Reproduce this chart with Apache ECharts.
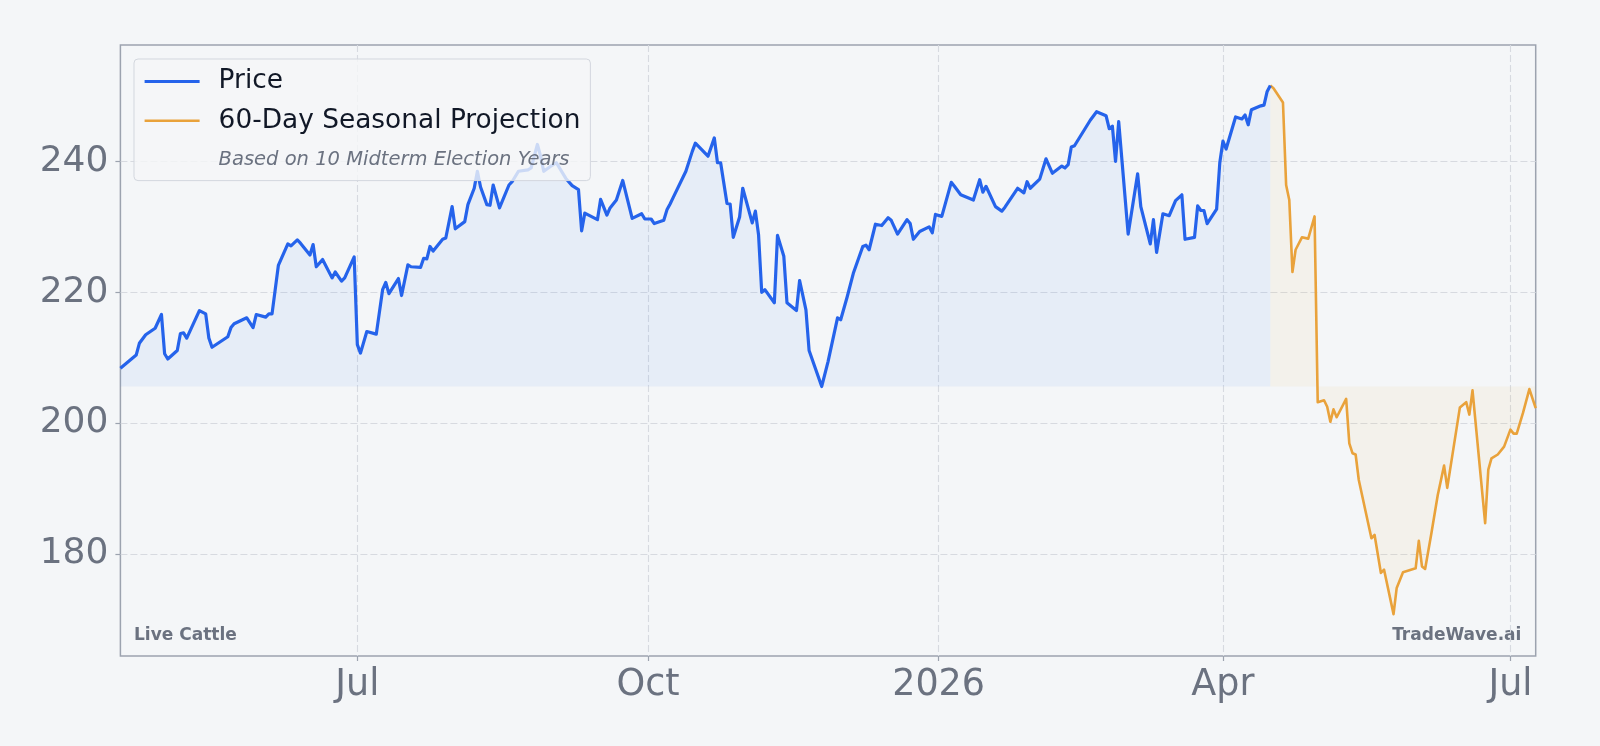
<!DOCTYPE html>
<html>
<head>
<meta charset="utf-8">
<title>Live Cattle</title>
<script src="https://cdn.jsdelivr.net/npm/echarts@6/dist/echarts.min.js"></script>
<style>
  html, body { margin: 0; padding: 0; background: #f4f6f8; }
  #chart { width: 1600px; height: 746px; }
</style>
</head>
<body>
<div id="chart"></div>
<script>
// price history (vertices of the line)
const priceDates = [
  '2025-04-17','2025-04-22','2025-04-23','2025-04-25','2025-04-28','2025-04-30','2025-05-01','2025-05-02','2025-05-05','2025-05-06',
  '2025-05-07','2025-05-08','2025-05-12','2025-05-14','2025-05-15','2025-05-16','2025-05-21','2025-05-22','2025-05-23','2025-05-27',
  '2025-05-29','2025-05-30','2025-06-02','2025-06-03','2025-06-04','2025-06-06','2025-06-09','2025-06-10','2025-06-12','2025-06-13',
  '2025-06-16','2025-06-17','2025-06-18','2025-06-20','2025-06-23','2025-06-24','2025-06-26','2025-06-27','2025-06-30','2025-07-01',
  '2025-07-02','2025-07-04','2025-07-07','2025-07-09','2025-07-10','2025-07-11','2025-07-14','2025-07-15','2025-07-17','2025-07-18',
  '2025-07-21','2025-07-22','2025-07-23','2025-07-24','2025-07-25','2025-07-28','2025-07-29','2025-07-31','2025-08-01','2025-08-04',
  '2025-08-05','2025-08-07','2025-08-08','2025-08-09','2025-08-11','2025-08-12','2025-08-13','2025-08-15','2025-08-18','2025-08-19',
  '2025-08-21','2025-08-24','2025-08-25','2025-08-27','2025-08-28','2025-08-29','2025-08-31','2025-09-02','2025-09-05','2025-09-07',
  '2025-09-09','2025-09-10','2025-09-11','2025-09-15','2025-09-16','2025-09-18','2025-09-19','2025-09-21','2025-09-23','2025-09-26',
  '2025-09-29','2025-09-30','2025-10-02','2025-10-03','2025-10-06','2025-10-07','2025-10-08','2025-10-09','2025-10-13','2025-10-15',
  '2025-10-16','2025-10-20','2025-10-22','2025-10-23','2025-10-24','2025-10-26','2025-10-27','2025-10-28','2025-10-30','2025-10-31',
  '2025-11-03','2025-11-04','2025-11-05','2025-11-06','2025-11-07','2025-11-10','2025-11-11','2025-11-13','2025-11-14','2025-11-17',
  '2025-11-18','2025-11-20','2025-11-21','2025-11-25','2025-11-27','2025-11-30','2025-12-01','2025-12-03','2025-12-05','2025-12-08',
  '2025-12-09','2025-12-10','2025-12-12','2025-12-14','2025-12-16','2025-12-17','2025-12-19','2025-12-22','2025-12-23','2025-12-24',
  '2025-12-26','2025-12-29','2025-12-30','2025-12-31','2026-01-02','2026-01-05','2026-01-06','2026-01-08','2026-01-12','2026-01-14',
  '2026-01-15','2026-01-16','2026-01-19','2026-01-21','2026-01-22','2026-01-26','2026-01-28','2026-01-29','2026-01-30','2026-02-02',
  '2026-02-04','2026-02-06','2026-02-09','2026-02-10','2026-02-11','2026-02-12','2026-02-13','2026-02-18','2026-02-20','2026-02-23',
  '2026-02-24','2026-02-25','2026-02-26','2026-02-27','2026-03-02','2026-03-05','2026-03-06','2026-03-09','2026-03-10','2026-03-11',
  '2026-03-13','2026-03-15','2026-03-17','2026-03-19','2026-03-20','2026-03-23','2026-03-24','2026-03-25','2026-03-26','2026-03-27',
  '2026-03-30','2026-03-31','2026-04-01','2026-04-02','2026-04-05','2026-04-07','2026-04-08','2026-04-09','2026-04-10','2026-04-13',
  '2026-04-14','2026-04-15','2026-04-16'
]
const priceValues = [
  208.4,210.4,212.2,213.5,214.5,216.6,210.6,209.8,211.1,213.7,
  213.8,213.0,217.2,216.7,213.0,211.6,213.2,214.6,215.2,216.1,
  214.6,216.6,216.2,216.7,216.7,224.1,227.4,227.1,228.0,227.5,
  225.7,227.3,223.9,225.0,222.2,223.1,221.7,222.2,225.4,212.0,
  210.7,214.0,213.6,220.4,221.5,219.8,222.1,219.5,224.2,223.9,
  223.8,225.2,225.1,227.0,226.3,228.1,228.3,233.1,229.7,230.8,
  233.4,235.9,238.5,236.1,233.4,233.3,236.4,232.9,236.4,236.9,
  238.5,238.7,239.0,242.6,240.8,238.5,239.2,239.8,237.4,236.3,
  235.7,229.4,232.1,231.1,234.2,231.8,232.9,234.1,237.1,231.3,
  232.0,231.2,231.2,230.5,231.0,232.6,233.5,234.5,238.5,241.5,
  242.8,240.8,243.6,239.8,239.8,233.6,233.5,228.4,231.5,235.9,
  230.6,232.4,228.8,220.0,220.4,218.4,228.7,225.5,218.4,217.2,
  221.8,217.3,211.1,205.6,209.4,216.1,215.8,219.2,222.9,227.0,
  227.2,226.5,230.4,230.2,231.4,231.0,228.9,231.1,230.5,228.1,
  229.3,230.0,229.1,231.9,231.6,236.8,236.2,234.9,234.1,237.2,
  235.3,236.2,233.1,232.4,233.0,235.9,235.2,236.9,235.9,237.3,
  240.4,238.2,239.3,239.0,239.5,242.2,242.4,246.3,247.6,247.0,
  245.0,245.4,240.0,246.1,228.9,238.1,233.1,227.4,231.1,226.1,
  232.0,231.7,234.0,234.9,228.1,228.4,233.2,232.5,232.5,230.5,
  232.7,239.8,243.1,241.9,246.8,246.5,247.1,245.6,247.9,248.5,
  248.6,250.7,251.6
]
// 60-day seasonal projection, starts at the last price
const projDates = [
  '2026-04-16','2026-04-17','2026-04-20','2026-04-21','2026-04-22','2026-04-23','2026-04-24','2026-04-26','2026-04-28','2026-04-30',
  '2026-05-01','2026-05-03','2026-05-04','2026-05-05','2026-05-06','2026-05-07','2026-05-10','2026-05-11','2026-05-12','2026-05-13',
  '2026-05-14','2026-05-18','2026-05-19','2026-05-21','2026-05-22','2026-05-25','2026-05-26','2026-05-28','2026-06-01','2026-06-02',
  '2026-06-03','2026-06-04','2026-06-06','2026-06-08','2026-06-10','2026-06-11','2026-06-15','2026-06-17','2026-06-18','2026-06-19',
  '2026-06-23','2026-06-24','2026-06-25','2026-06-27','2026-06-29','2026-07-01','2026-07-02','2026-07-03','2026-07-05','2026-07-07',
  '2026-07-09'
]
const projValues = [
  251.6,251.2,249.0,236.4,234.1,223.1,226.5,228.4,228.2,231.6,
  203.2,203.5,202.5,200.2,202.1,200.9,203.7,196.9,195.4,195.2,
  191.3,182.4,182.9,177.1,177.6,170.8,174.8,177.2,177.8,182.0,
  178.1,177.7,183.2,189.0,193.5,190.1,202.4,203.2,201.3,205.0,
  184.7,192.9,194.6,195.2,196.4,199.0,198.4,198.4,201.6,205.2,
  202.3
]
const xTickDates = ['2025-07-01', '2025-10-01', '2026-01-01', '2026-04-01', '2026-07-01']
const xTickLabels = ['Jul', 'Oct', '2026', 'Apr', 'Jul']
const yTickValues = [180, 200, 220, 240]

const FONT = 'DejaVu Sans'
const BLUE = '#2563eb'
const ORANGE = '#e9a23b'

// local-time timestamp from 'YYYY-MM-DD'
const toTime = function (s) {
    const p = s.split('-').map(Number)
    return new Date(p[0], p[1] - 1, p[2]).getTime()
}

const xTickTimes = xTickDates.map(toTime)
const baseline = Math.min(...priceValues)

const chartInstance = echarts.init(document.getElementById('chart'))
const option = {
    animation: false,
    backgroundColor: '#f4f6f8',
    textStyle: { fontFamily: FONT },
    grid: {
        left: 120.4,
        right: 64.3,
        top: 45,
        bottom: 90,
        show: true,
        borderColor: '#9ca3af',
        borderWidth: 1.5,
        backgroundColor: 'transparent'
    },
    legend: {
        orient: 'vertical',
        left: 134,
        top: 59,
        padding: [7.5, 10, 5.5, 9],
        itemGap: 9.3,
        itemWidth: 55,
        itemHeight: 14,
        selectedMode: false,
        backgroundColor: 'rgba(245,246,248,0.8)',
        borderColor: '#d3d7de',
        borderWidth: 1,
        borderRadius: 4,
        textStyle: {
            fontFamily: FONT,
            fontSize: 26.4,
            lineHeight: 30,
            color: '#111827',
            padding: [0, 0, 0, 14]
        },
        data: [
            { name: 'Price', itemStyle: { opacity: 0 }, lineStyle: { width: 3.2 } },
            { name: '60-Day Seasonal Projection', itemStyle: { opacity: 0 }, lineStyle: { width: 2.6 } },
            {
                name: 'Based on 10 Midterm Election Years',
                itemStyle: { opacity: 0 },
                lineStyle: { opacity: 0 },
                textStyle: { fontSize: 19.5, fontStyle: 'italic', color: '#6b7280', lineHeight: 30 }
            }
        ]
    },
    xAxis: {
        type: 'value',
        min: toTime('2025-04-17'),
        max: toTime('2026-07-09'),
        axisLine: { show: false },
        axisTick: {
            show: true,
            length: 5,
            customValues: xTickTimes,
            lineStyle: { color: '#9ca3af', width: 1.2 }
        },
        axisLabel: {
            customValues: xTickTimes,
            margin: 11,
            fontSize: 36.5,
            fontFamily: FONT,
            color: '#6b7280',
            formatter: function (value) {
                let best = 0
                xTickTimes.forEach((t, i) => {
                    if (Math.abs(t - value) < Math.abs(xTickTimes[best] - value)) best = i
                })
                return xTickLabels[best]
            }
        },
        splitLine: {
            show: true,
            lineStyle: { color: '#d7dae0', type: [7, 3], width: 1.1 }
        }
    },
    yAxis: {
        type: 'value',
        min: 164.4,
        max: 257.8,
        axisLine: { show: false },
        axisTick: {
            show: true,
            length: 5,
            customValues: yTickValues,
            lineStyle: { color: '#9ca3af', width: 1.2 }
        },
        axisLabel: {
            customValues: yTickValues,
            margin: 12,
            fontSize: 36,
            fontFamily: FONT,
            color: '#6b7280'
        },
        splitLine: {
            show: true,
            lineStyle: { color: '#d7dae0', type: [7, 3], width: 1.1 }
        }
    },
    series: [
        {
            name: 'Price',
            type: 'line',
            symbol: 'none',
            color: BLUE,
            lineStyle: { width: 3.2, color: BLUE, join: 'round' },
            areaStyle: { color: 'rgba(59,130,246,0.1)', origin: baseline },
            z: 3,
            data: priceDates.map((d, i) => [toTime(d), priceValues[i]])
        },
        {
            name: '60-Day Seasonal Projection',
            type: 'line',
            symbol: 'none',
            color: ORANGE,
            lineStyle: { width: 2.6, color: ORANGE, join: 'round' },
            areaStyle: { color: 'rgba(245,158,11,0.08)', origin: baseline },
            z: 2,
            data: projDates.map((d, i) => [toTime(d), projValues[i]])
        },
        {
            name: 'Based on 10 Midterm Election Years',
            type: 'line',
            symbol: 'none',
            color: 'rgba(0,0,0,0)',
            lineStyle: { opacity: 0 },
            data: []
        }
    ],
    graphic: [
        {
            type: 'text',
            left: 134,
            top: 627,
            style: { text: 'Live Cattle', font: 'bold 17px "DejaVu Sans"', fill: '#6b7280' }
        },
        {
            type: 'text',
            right: 78.6,
            top: 627,
            style: { text: 'TradeWave.ai', font: 'bold 17px "DejaVu Sans"', fill: '#6b7280' }
        }
    ]
}

option && chartInstance.setOption(option)
</script>
</body>
</html>
